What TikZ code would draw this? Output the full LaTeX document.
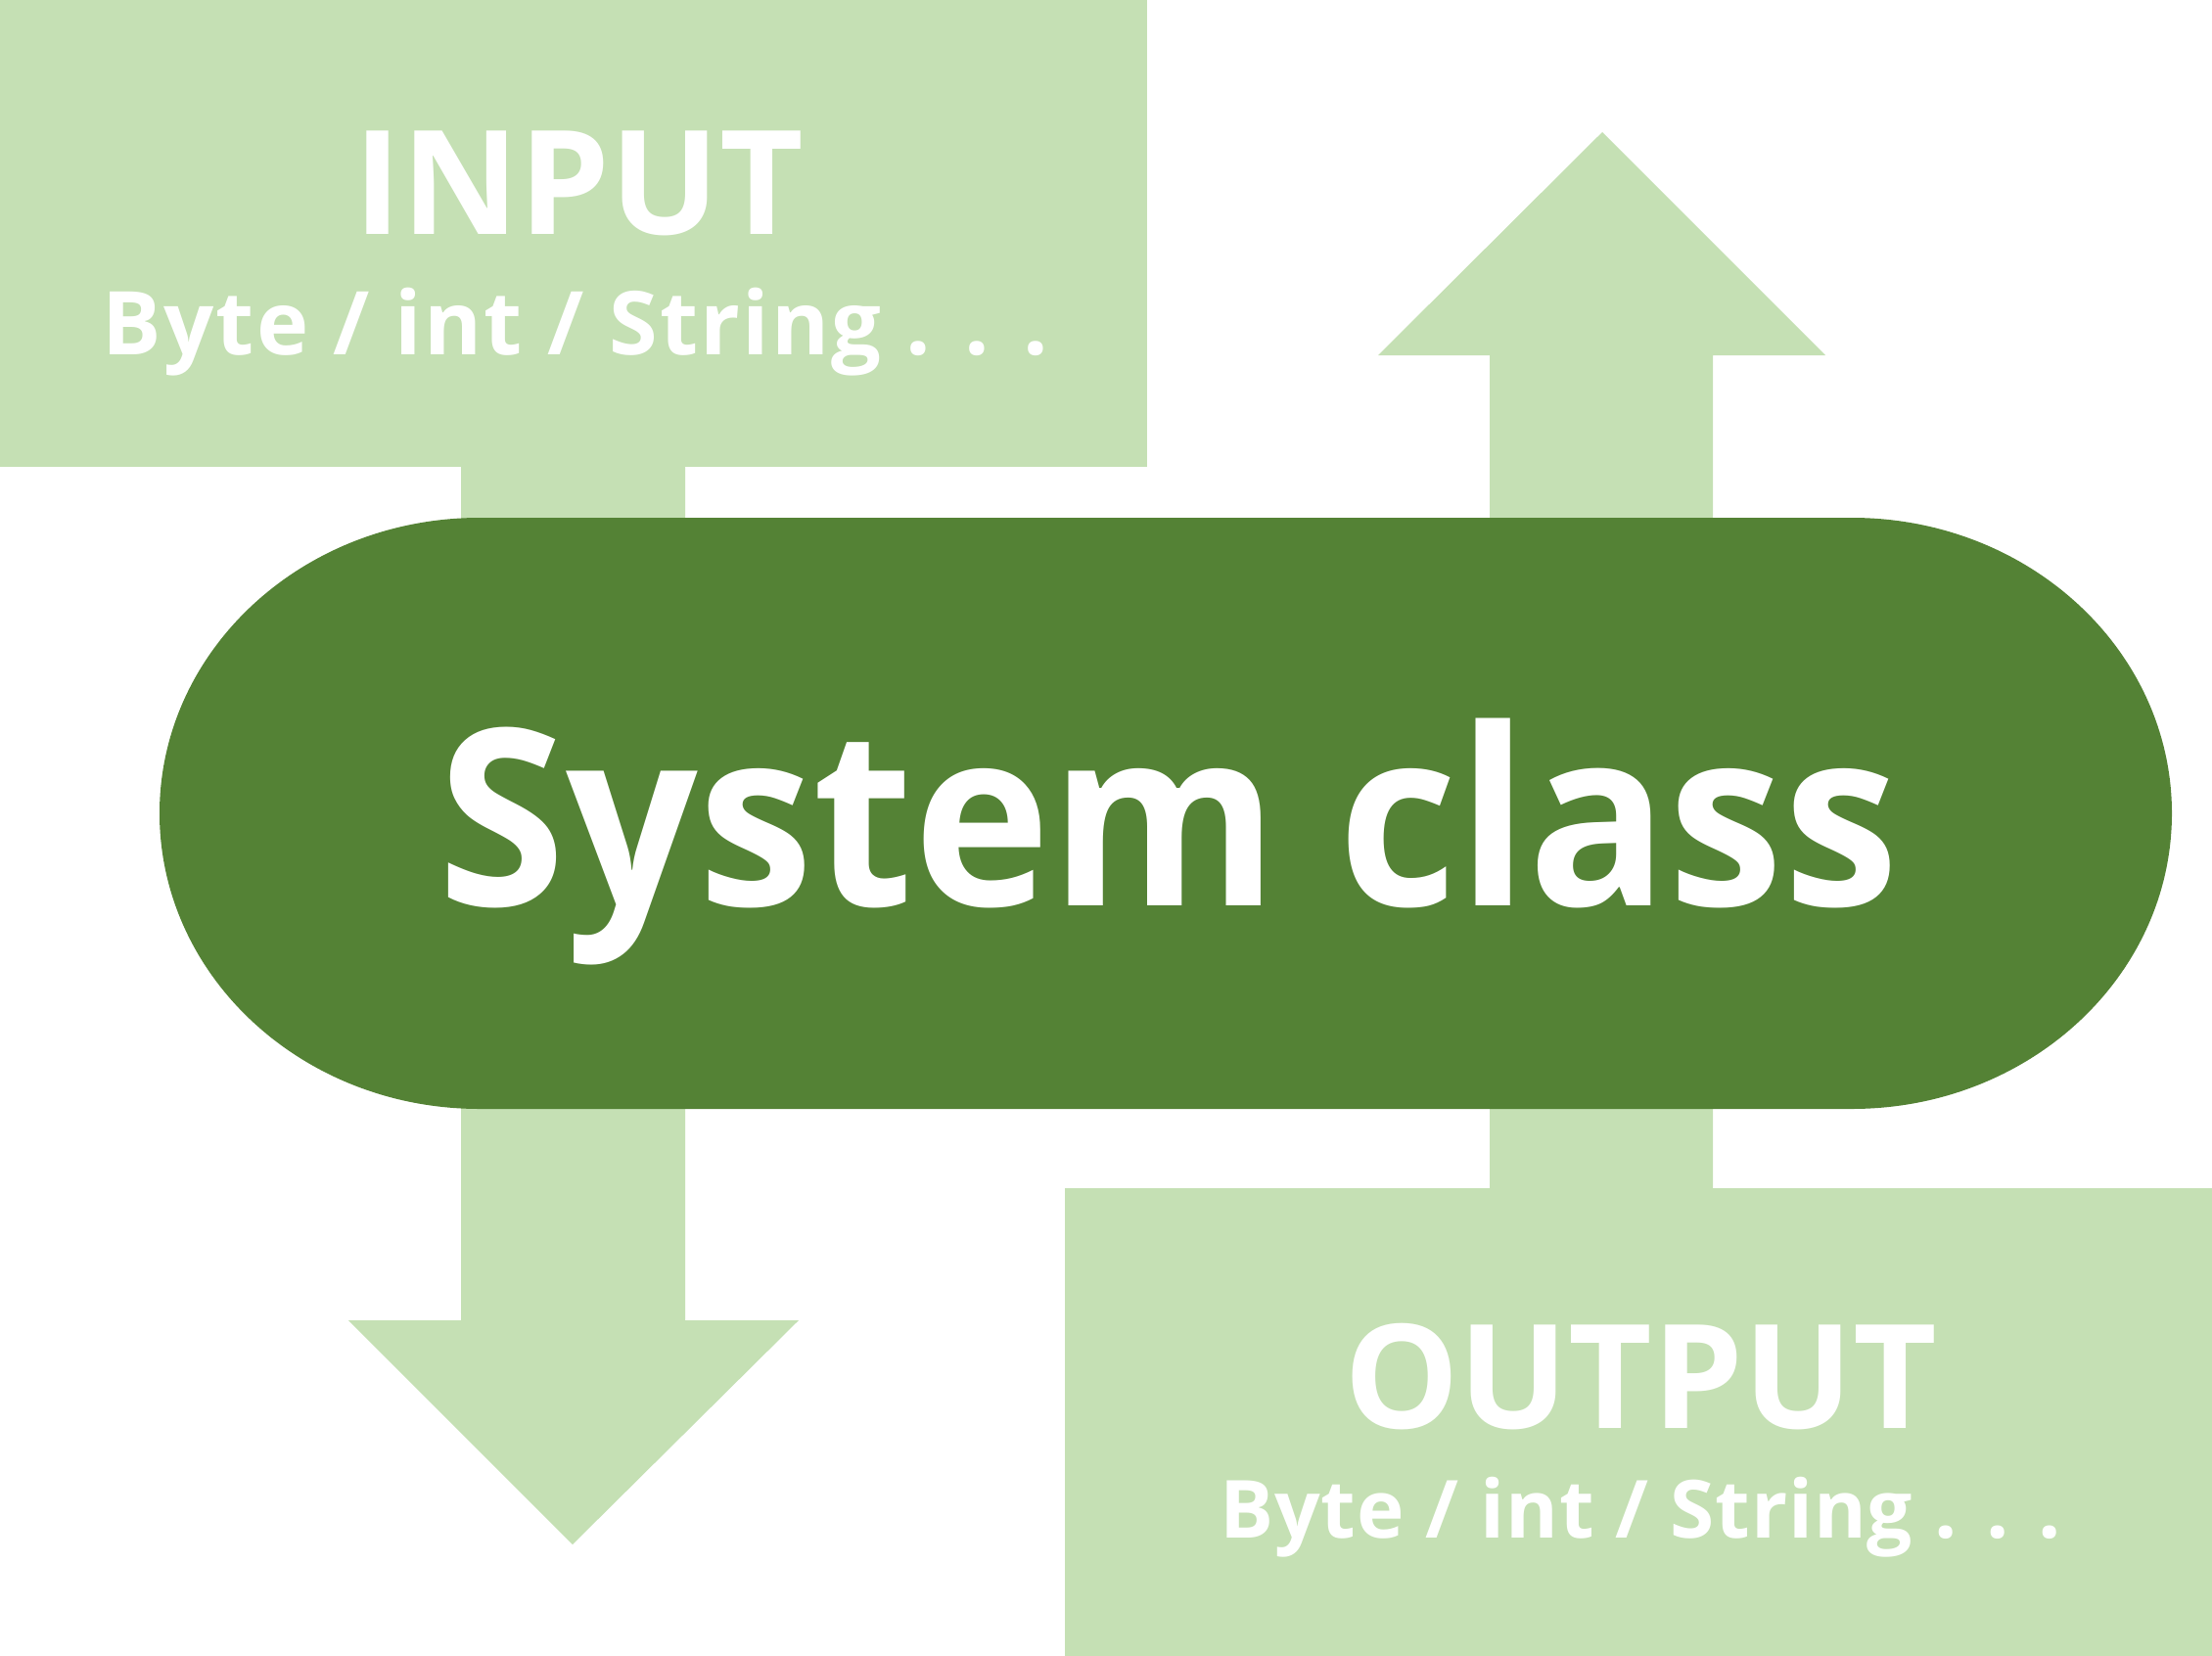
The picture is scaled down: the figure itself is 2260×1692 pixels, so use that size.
\documentclass[tikz,border=0pt]{standalone}
\usepackage{fontspec}
\setmainfont{Open Sans}
\newfontfamily\narrowSans{Open Sans}[FakeStretch=0.94]
\definecolor{ioGreen}{HTML}{C5E0B4}
\definecolor{sysGreen}{HTML}{548235}

\begin{document}
\begin{tikzpicture}[
    x=0.5pt, y=-0.5pt,
    ioBox/.style={fill=ioGreen, draw=none, inner sep=0pt, anchor=north west},
    ioArrow/.style={fill=ioGreen},
    sysShape/.style={fill=sysGreen},
    ioTitle/.style={text=white, anchor=base, inner sep=0pt,
        font=\bfseries\fontsize{74}{80}\selectfont},
    ioTypes/.style={text=white, anchor=base, inner sep=0pt,
        font=\bfseries\fontsize{45}{50}\selectfont\addfontfeature{LetterSpace=2.5}},
    sysLabel/.style={text=white, anchor=base, inner sep=0pt,
        font=\narrowSans\bfseries\fontsize{126}{130}\selectfont}
]
\useasboundingbox (0,0) rectangle (2260,1692);

% input and output boxes
\node[ioBox, minimum width=586pt, minimum height=238.5pt] (inBox) at (0,0) {};
\node[ioBox, minimum width=586pt, minimum height=239pt] (outBox) at (1088,1214) {};

% block arrows, behind the class
\fill[ioArrow] (471,477) -- (700,477) -- (700,1349) -- (816,1349)
    -- (585,1578) -- (356,1349) -- (471,1349) -- cycle;
\fill[ioArrow] (1522,1214) -- (1522,363) -- (1408,363) -- (1637,135)
    -- (1865,363) -- (1750,363) -- (1750,1214) -- cycle;

% the class itself
\fill[sysShape] (490,529) -- (1892,529)
    arc[start angle=-90, end angle=90, x radius=327, y radius=302]
    -- (490,1133)
    arc[start angle=90, end angle=270, x radius=327, y radius=302] -- cycle;
\node[sysLabel] (sysText) at (1194,925) {System class};

% texts
\node[ioTitle] (inTitle) at (591,239) {INPUT};
\node[ioTypes] (inTypes) at (588,362) {Byte / int / String . . .};
\node[ioTitle] (outTitle) at (1676,1459) {OUTPUT};
\node[ioTypes, font=\bfseries\fontsize{41}{46}\selectfont\addfontfeature{LetterSpace=1}] (outTypes) at (1676,1571) {Byte / int / String . . .};
\end{tikzpicture}
\end{document}
